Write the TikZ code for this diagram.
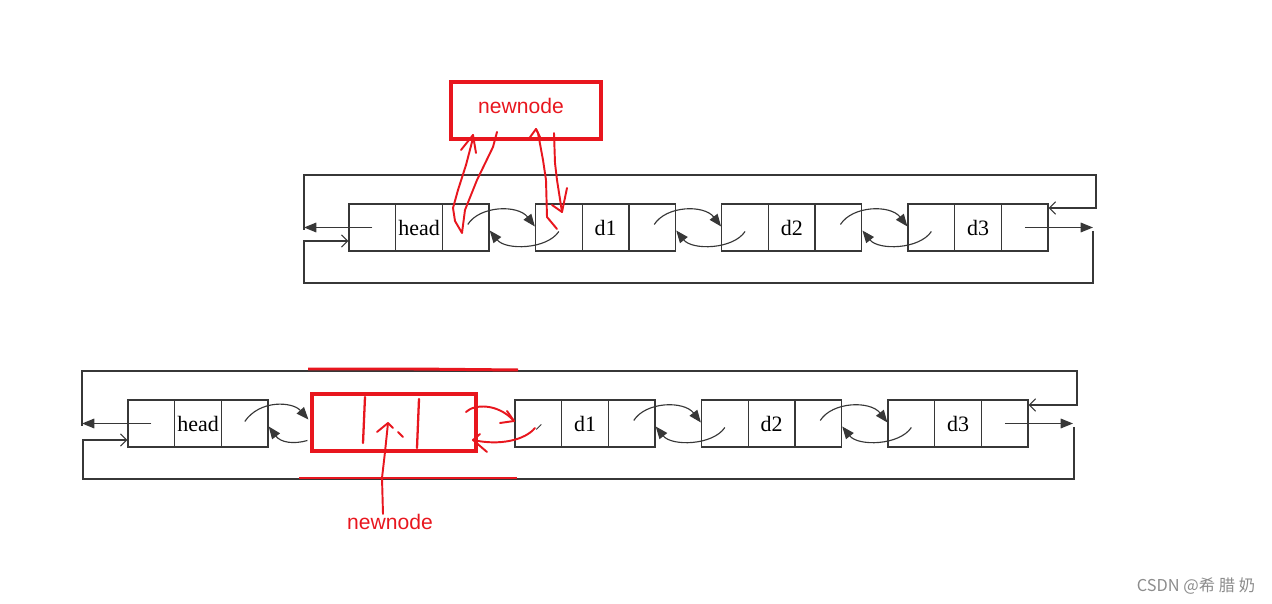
\documentclass[tikz,border=0pt]{standalone}
\usepackage{fontspec}
\setmainfont{Liberation Serif}
\newfontfamily\redsans{Liberation Sans}
\newfontfamily\cjk{Noto Sans CJK SC}
\usetikzlibrary{arrows.meta,calc}
\definecolor{ink}{RGB}{55,55,55}
\definecolor{pen}{RGB}{232,22,30}
\definecolor{wm}{RGB}{140,140,140}
\tikzset{
  cell/.style={draw=ink, line width=0.7pt, minimum width=0.934cm, minimum height=0.94cm, inner sep=0pt, font=\fontsize{12.5}{14}\selectfont},
  link/.style={draw=ink, line width=0.65pt, -{Triangle[length=7pt,width=5.5pt]}},
  loopline/.style={draw=ink, line width=0.7pt},
  openarr/.style={-{Straight Barb[length=3.5pt,width=7pt,line width=0.6pt]}},
  redbox/.style={draw=pen, line width=1.8pt, inner sep=0pt},
  stroke/.style={draw=pen, line width=1.1pt, line cap=round, line join=round},
  thickred/.style={draw=pen, line width=1.7pt},
  redlabel/.style={text=pen, font=\redsans\fontsize{12}{14}\selectfont, inner sep=0pt},
}
\newcommand\listnode[4]{%
  \node[cell] (#1a) at (#2+23.35,#3) {};
  \node[cell] (#1b) at (#2+70.05,#3) {#4};
  \node[cell] (#1c) at (#2+116.75,#3) {};
}
\newcommand\dlink[2]{%
  \draw[link] ([shift={(2,-3)}]#1.center) .. controls +(12,-19) and +(-17,-22) .. ([shift={(0,-1)}]#2.west);
  \draw[link] ([shift={(0,4)}]#2.center) .. controls +(-12,18) and +(16,20) .. ([shift={(0,3)}]#1.east);
}
\begin{document}
\begin{tikzpicture}[x=0.02cm,y=-0.02cm]
\useasboundingbox (0,0) rectangle (1272,604);

% ---------------- top row ----------------
\listnode{t0}{349}{227.5}{head}
\listnode{t1}{535.5}{227.5}{d1}
\listnode{t2}{721.7}{227.5}{d2}
\listnode{t3}{908}{227.5}{d3}
\dlink{t0c}{t1a}
\dlink{t1c}{t2a}
\dlink{t2c}{t3a}

\coordinate (tL1) at (304,230);
\coordinate (tL2) at (304,175);
\coordinate (tR1) at (1096,175);
\coordinate (tR2) at (1096,208);
\coordinate (tLa) at (304,227.5);
\coordinate (tRa) at (1093,227.5);
\coordinate (tB1) at (1093,231);
\coordinate (tB2) at (1093,283);
\coordinate (tB3) at (304,283);
\coordinate (tB4) at (304,241);
\draw[loopline,openarr] (tL1) -- (tL2) -- (tR1) -- (tR2) -- (t3c.east |- tR2);
\draw[link] (t0a.center) -- (tLa);
\draw[link] (t3c.center) -- (tRa);
\draw[loopline,openarr] (tB1) -- (tB2) -- (tB3) -- (tB4) -- (t0a.west |- tB4);

% top red new node and strokes
\node[redbox, minimum width=3.0cm, minimum height=1.14cm, redlabel] (nt) at (526,110.5) {};
\node[redlabel] (ntlab) at (521,106) {newnode};
\draw[stroke] (497,132) -- (493,147) -- (477,180) -- (465,210) -- (462,233) -- (455,221) -- (453,208) -- (458,190) -- (466,165) -- (472,142) -- (473,135);
\draw[stroke] (461,150) -- (473,135) -- (476,153);
\draw[stroke] (557,229) -- (547,217) -- (546,180) -- (543,160) -- (538,133) -- (536,129);
\draw[stroke] (528,140) -- (536,129) -- (540,137);
\draw[stroke] (554,133) -- (555,163) -- (557,180) -- (562,212);
\draw[stroke] (567,188) -- (562,212) -- (552,205);

% ---------------- bottom row ----------------
\listnode{b0}{128}{423.5}{head}
\listnode{b1}{515}{423.5}{d1}
\listnode{b2}{701.5}{423.5}{d2}
\listnode{b3}{888}{423.5}{d3}
\node[redbox, minimum width=3.28cm, minimum height=1.14cm] (nn) at (394,422.5) {};
\dlink{b1c}{b2a}
\dlink{b2c}{b3a}
\draw[link] ([shift={(0,-2)}]b0c.center) .. controls +(15,-22) and +(-16,-18) .. ([shift={(-2,-3)}]nn.west);
\draw[link] ([shift={(-3,18)}]nn.west) .. controls +(-14,4) and +(12,16) .. ([shift={(0,3)}]b0c.east);
\draw[draw=ink, line width=0.5pt] ([shift={(-2,6)}]b1a.center) -- ([shift={(3,1)}]b1a.center);

\coordinate (bL1) at (82,426);
\coordinate (bL2) at (82,371);
\coordinate (bR1) at (1077,371);
\coordinate (bR2) at (1077,405);
\coordinate (bLa) at (82,423.5);
\coordinate (bRa) at (1073,423.5);
\coordinate (bB1) at (1074,427);
\coordinate (bB2) at (1074,479);
\coordinate (bB3) at (83,479);
\coordinate (bB4) at (83,440);
\draw[loopline,openarr] (bL1) -- (bL2) -- (bR1) -- (bR2) -- (b3c.east |- bR2);
\draw[link] (b0a.center) -- (bLa);
\draw[link] (b3c.center) -- (bRa);
\draw[loopline,openarr] (bB1) -- (bB2) -- (bB3) -- (bB4) -- (b0a.west |- bB4);

% red overlays on bottom row
\draw[thickred] (308,369) -- (413,369) -- (518,370);
\draw[thickred] (299,478) -- (517,478);
\draw[stroke, line width=1.3pt] (365,397) -- (363,443);
\draw[stroke, line width=1.3pt] (419,399) -- (417,448);
\node[redlabel] (nlab) at (390,522) {newnode};
\draw[stroke] (nlab.north -| 383,0) -- (382,478) -- (385,452) -- (388,423);
\draw[stroke] (377,432) -- (388,423) -- (393,428);
\draw[stroke] (398,432) -- (403,437);
% red links newnode <-> d1
\draw[stroke] (466,412) .. controls (474,404) and (498,403) .. (514,421);
\draw[stroke] (500,423) -- (514,421);
\draw[stroke] (507,411) -- (514,421);
\draw[stroke] (535,428) .. controls (525,440) and (500,446) .. (473,440);
\draw[stroke] (480,434) -- (473,440) -- (487,452);

% watermark
\node[text=wm, font=\cjk\fontsize{9.3}{11}\selectfont, inner sep=0pt] (wmark) at (1196,586) {CSDN @希 腊 奶};
\end{tikzpicture}
\end{document}
